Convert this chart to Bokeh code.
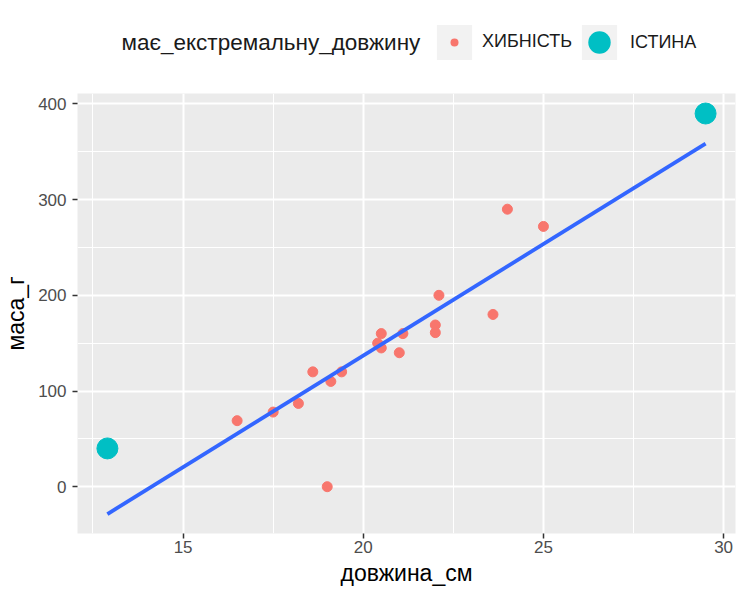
import numpy as np
from bokeh.plotting import figure
from bokeh.layouts import column
from bokeh.models import FixedTicker, Legend, LegendItem, Range1d, Label
from bokeh.embed import file_html
from bokeh.resources import INLINE

# fish lengths / masses
length_cm = [12.9, 16.5, 17.5, 18.2, 18.6, 19.0, 19.1, 19.4, 20.4, 20.5,
             20.5, 21.0, 21.1, 22.0, 22.0, 22.1, 23.6, 24.0, 25.0, 29.5]
mass_g = [40, 69, 78, 87, 120, 0, 110, 120, 150, 145,
          160, 140, 160, 169, 161, 200, 180, 290, 272, 390]
extreme = [True] + [False] * 18 + [True]

groups = ["ХИБНІСТЬ", "ІСТИНА"]
group_colors = ["#F8766D", "#00BFC4"]
group_sizes = [10, 21]

x_ticks = [15, 20, 25, 30]
x_minor = [12.5, 17.5, 22.5, 27.5]
y_ticks = [0, 100, 200, 300, 400]
y_minor = [50, 150, 250, 350]

FONT = "Liberation Sans, Arial, sans-serif"

p = figure(width=740, height=499, output_backend="svg", toolbar_location=None,
           x_range=Range1d(12.07, 30.33), y_range=Range1d(-48.9, 410.9),
           min_border_left=77, min_border_right=5, min_border_top=0,
           min_border_bottom=59)
p.background_fill_color = "#EBEBEB"
p.border_fill_color = "white"
p.outline_line_color = None

p.xaxis.ticker = FixedTicker(ticks=x_ticks, minor_ticks=x_minor)
p.yaxis.ticker = FixedTicker(ticks=y_ticks, minor_ticks=y_minor)
for g in (p.xgrid, p.ygrid):
    g.grid_line_color = "white"
    g.grid_line_width = 2
    g.minor_grid_line_color = "white"
    g.minor_grid_line_width = 1

for ax in (p.xaxis, p.yaxis):
    ax.axis_line_color = None
    ax.major_tick_line_color = "#333333"
    ax.major_tick_line_width = 1.5
    ax.major_tick_out = 5
    ax.major_tick_in = 0
    ax.minor_tick_line_color = None
    ax.major_label_text_font = FONT
    ax.major_label_text_font_size = "17px"
    ax.major_label_text_color = "#4D4D4D"
    ax.axis_label_text_font = FONT
    ax.axis_label_text_font_size = "23px"
    ax.axis_label_text_font_style = "normal"
    ax.axis_label_text_color = "black"

p.xaxis.axis_label = "довжина_см"
p.yaxis.axis_label = "маса_г"
p.xaxis.major_label_standoff = 2
p.yaxis.major_label_standoff = 6
p.xaxis.axis_label_standoff = 4
p.yaxis.axis_label_standoff = 6

group_x, group_y = [], []
for flag, name, col, sz in zip([False, True], groups, group_colors, group_sizes):
    xs = [x for x, e in zip(length_cm, extreme) if e == flag]
    ys = [y for y, e in zip(mass_g, extreme) if e == flag]
    group_x.append(xs)
    group_y.append(ys)
    p.scatter(xs, ys, size=sz, fill_color=col, line_color=col)

# linear fit over all points, like geom_smooth(method="lm")
slope, icept = np.polyfit(length_cm, mass_g, 1)
fx = [min(length_cm), max(length_cm)]
p.line(fx, [icept + slope * v for v in fx], line_color="#3366FF", line_width=3.8)

# legend strip on top as its own figure (frame lines up with the plot below);
# its proxy glyphs reuse the data, which falls outside the strip's 0..1 range
head = figure(width=740, height=93, output_backend="svg", toolbar_location=None,
              x_axis_type=None, y_axis_type=None, min_border=0,
              x_range=Range1d(0, 1), y_range=Range1d(0, 1))
head.outline_line_color = None
head.grid.visible = False

def one_key(label, marker, color, size, box, cx, standoff, gi):
    # bokeh draws a legend marker at 0.4 of the glyph box
    r = head.scatter(x=group_x[gi], y=group_y[gi], marker=marker, size=size,
                     fill_color=color, line_color=None)
    lg = Legend(items=[LegendItem(label=label, renderers=[r])],
                location=(cx - box / 2, 51 - box / 2),
                glyph_width=box, glyph_height=box, label_standoff=standoff,
                padding=0, margin=0, border_line_alpha=0,
                background_fill_alpha=0, label_text_font=FONT,
                label_text_font_size="18px", label_text_color="#1A1A1A",
                label_text_baseline="middle")
    head.add_layout(lg, "center")

# grey key squares first, dots and labels on top
key_x = [377, 522]
for gi, cx in enumerate(key_x):
    one_key(" ", "square", "#F2F2F2", 35, 88, cx, 0, gi)
one_key(groups[0], "circle", group_colors[0], 8, 20, key_x[0], 18, 0)
one_key(groups[1], "circle", group_colors[1], 22, 56, key_x[1], 3, 1)

head.add_layout(Label(x=44, y=51, x_units="screen", y_units="screen",
                      text="має_екстремальну_довжину", text_align="left",
                      text_baseline="middle", text_font=FONT,
                      text_font_size="22.5px", text_color="#1A1A1A"))

open("out.html", "w").write(file_html(column(head, p), INLINE))
